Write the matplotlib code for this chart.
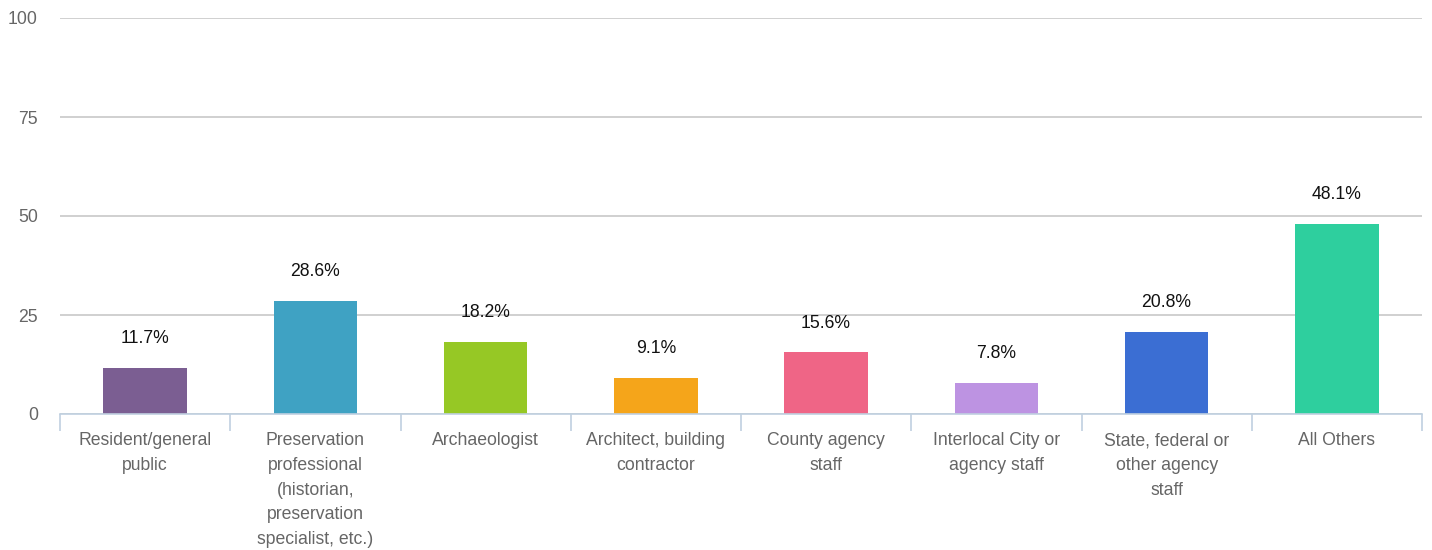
import numpy as np
import matplotlib.pyplot as plt

plt.rcParams['font.family'] = ['Liberation Sans', 'DejaVu Sans']

# survey data
categories = ['Resident/general\npublic',
              'Preservation\nprofessional\n(historian,\npreservation\nspecialist, etc.)',
              'Archaeologist',
              'Architect, building\ncontractor',
              'County agency\nstaff',
              'Interlocal City or\nagency staff',
              'State, federal or\nother agency\nstaff',
              'All Others']
values = [11.7, 28.6, 18.2, 9.1, 15.6, 7.8, 20.8, 48.1]
colors = ['#7b5e92', '#3fa2c3', '#96c825', '#f5a51a',
          '#ef6586', '#bd93e2', '#3b6ed3', '#2ecf9e']
y_ticks = [0, 25, 50, 75, 100]

fig = plt.figure(figsize=(14.32, 5.5), dpi=100)
ax = fig.add_axes([60 / 1432, 1 - 414 / 550, 1362 / 1432, 396 / 550])

x = np.arange(len(categories))
ax.bar(x, values, width=0.49, color=colors, zorder=3)

# value labels above each bar
for xi, v in zip(x, values):
    ax.annotate(f'{v}%', (xi, v), xytext=(0, 21), textcoords='offset points',
                ha='center', va='center', fontsize=12.7, color='#111111')

ax.set_xlim(-0.5, len(categories) - 0.5)
ax.set_ylim(0, 100)
ax.set_yticks(y_ticks)
ax.set_yticklabels([str(t) for t in y_ticks])
ax.yaxis.grid(True, color='#c8c8c8', linewidth=1.2, zorder=0)
ax.tick_params(axis='y', length=0, pad=16, labelsize=12.7, labelcolor='#666666')

# category labels centred on bars, tick marks between categories
ax.set_xticks(x)
ax.set_xticklabels(categories, fontsize=12.7, color='#666666', linespacing=1.6, va='top')
ax.tick_params(axis='x', which='major', length=0, pad=13)
ax.set_xticks(np.arange(-0.5, len(categories)), minor=True)
ax.tick_params(axis='x', which='minor', length=12, width=1.2, color='#c0d0e0')

for side in ['top', 'right', 'left']:
    ax.spines[side].set_visible(False)
ax.spines['bottom'].set_color('#c0d0e0')
ax.spines['bottom'].set_linewidth(1.2)
ax.spines['bottom'].set_zorder(4)

fig.savefig('out.png', dpi=100)
